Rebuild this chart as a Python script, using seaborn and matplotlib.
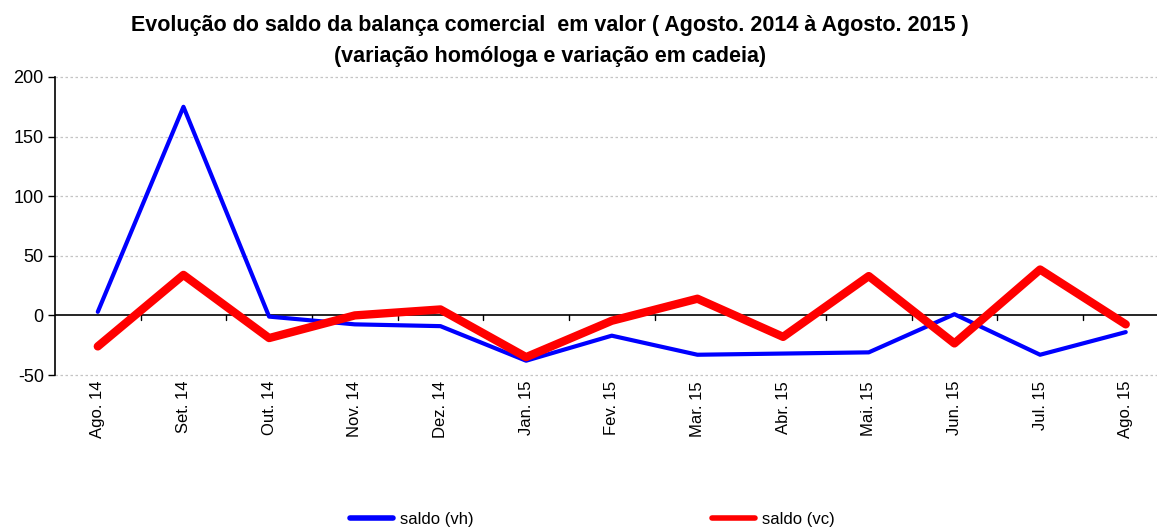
import numpy as np
import pandas as pd
import matplotlib
matplotlib.use("Agg")
import matplotlib.pyplot as plt
import seaborn as sns

# data
meses = ["Ago. 14", "Set. 14", "Out. 14", "Nov. 14", "Dez. 14", "Jan. 15", "Fev. 15",
         "Mar. 15", "Abr. 15", "Mai. 15", "Jun. 15", "Jul. 15", "Ago. 15"]
saldo_vh = [3, 175, -1, -7.5, -9, -38, -17, -33, -32, -31, 1, -33, -14]
saldo_vc = [-26, 34, -19, 0, 5, -35, -4.5, 14, -18, 33, -23.5, 38.5, -7.5]

sns.set_theme(style="white")
plt.rcParams["font.family"] = ["Liberation Sans Narrow", "Liberation Sans", "DejaVu Sans"]
plt.rcParams["text.color"] = "black"
plt.rcParams["xtick.color"] = "black"
plt.rcParams["ytick.color"] = "black"

df = pd.DataFrame({
    "pos": list(range(len(meses))) * 2,
    "valor": saldo_vh + saldo_vc,
    "serie": ["saldo (vh)"] * len(meses) + ["saldo (vc)"] * len(meses),
})

fig = plt.figure(figsize=(11.57, 5.27), dpi=100)
ax = fig.add_axes([0.0475, 0.2884, 0.9625, 0.5655])

# =========================
# LINES
# =========================
sns.lineplot(data=df[df.serie == "saldo (vh)"], x="pos", y="valor", color="#0000ff",
             linewidth=3, ax=ax, label="saldo (vh)", sort=False, zorder=3)
sns.lineplot(data=df[df.serie == "saldo (vc)"], x="pos", y="valor", color="#ff0000",
             linewidth=6, ax=ax, label="saldo (vc)", sort=False, zorder=4,
             solid_capstyle="round")

ax.set_xlim(-0.5, len(meses) - 0.5)
ax.set_ylim(-50, 200)
ax.set_yticks([-50, 0, 50, 100, 150, 200])
ax.set_yticklabels(["-50", "0", "50", "100", "150", "200"], fontsize=13)
for g in [-50, 50, 100, 150, 200]:
    ax.axhline(g, linestyle=(0, (2, 2)), color="#c4c4c4", linewidth=0.9, zorder=1,
               clip_on=False)
ax.axhline(0, color="black", linewidth=1.2, zorder=2)

# category ticks on the zero line
for b in np.arange(0.5, len(meses) - 0.5, 1):
    ax.plot([b, b], [0, -4], color="black", linewidth=1.0, zorder=2, clip_on=False)

ax.set_xticks(range(len(meses)))
ax.set_xticklabels([])
ax.tick_params(axis="x", length=0)
for i, m in enumerate(meses):
    ax.text(i, -55, m, rotation=90, ha="center", va="top", fontsize=12,
            transform=ax.transData)

ax.tick_params(axis="y", direction="out", length=5, width=1, color="black", left=True, pad=3)
for s in ["top", "right", "bottom"]:
    ax.spines[s].set_visible(False)
ax.spines["left"].set_color("black")
ax.spines["left"].set_linewidth(1.2)
ax.set_xlabel("")
ax.set_ylabel("")

fig.text(0.475, 0.952, "Evolução do saldo da balança comercial  em valor ( Agosto. 2014 à Agosto. 2015 )",
         ha="center", va="center", fontsize=15.5, fontweight="bold", color="black")
fig.text(0.475, 0.892, "(variação homóloga e variação em cadeia)",
         ha="center", va="center", fontsize=15.5, fontweight="bold", color="black")

leg = ax.legend(loc="center", bbox_to_anchor=(0.512, 0.015), bbox_transform=fig.transFigure,
                ncol=2, frameon=False, fontsize=12, columnspacing=14.3, handlelength=2.6,
                handletextpad=0.4)
for h in leg.get_lines():
    h.set_linewidth(4)
    h.set_solid_capstyle("round")

fig.savefig("out.png", dpi=100)
